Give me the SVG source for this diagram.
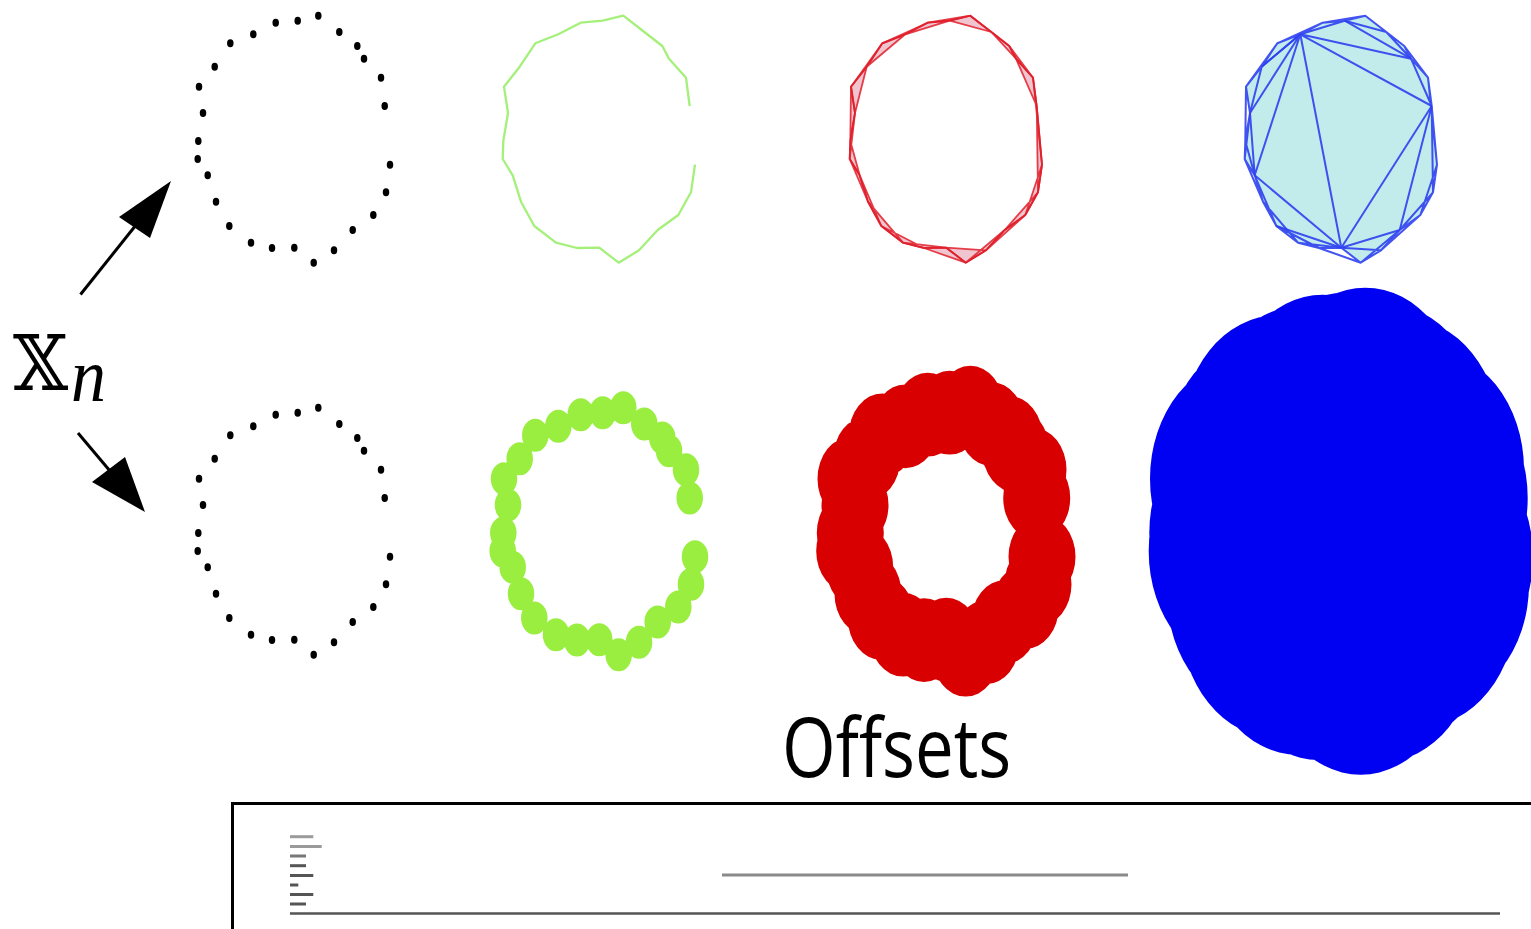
<svg xmlns="http://www.w3.org/2000/svg" xmlns:xlink="http://www.w3.org/1999/xlink" width="1531" height="929" viewBox="0 0 1531 929">
<style>
.dots{fill:none;stroke:#000;stroke-width:6.5;stroke-linecap:round}
.gdisc{fill:none;stroke:#99ee40;stroke-width:26.5;stroke-linecap:round}
.rdisc{fill:none;stroke:#d80000;stroke-width:67;stroke-linecap:round}
.bdisc{fill:none;stroke:#0000f2;stroke-width:192;stroke-linecap:round}
.gline{fill:none;stroke:#a4f07a;stroke-width:2.3;stroke-linejoin:round}
.rtri{fill:#d04a6a;fill-opacity:0.32;stroke:#e0202c;stroke-width:1.8;stroke-opacity:0.85;stroke-linejoin:round}
.bfill{fill:#c2ecec;stroke:none}
.btri{fill:none;stroke:#2f40f0;stroke-width:2;stroke-opacity:0.9;stroke-linejoin:round}
.arrow{stroke:#000;stroke-width:3;fill:none}
.head{fill:#000}
.lbl{font-family:"Open Sans","DejaVu Sans",sans-serif;fill:#000}
.leg{stroke-width:3;fill:none}
</style>
<defs>
<path id="pts" d="M384.7 84.8h.01M381 62.16h.01M364 46.96h.01M357.3 36.8h.01M339.3 25.6h.01M318.3 12.56h.01M297.7 16.56h.01M275.7 18.16h.01M253.3 27.44h.01M230.3 34.64h.01M214.7 53.36h.01M199 69.36h.01M203 90.4h.01M198.3 112.8h.01M197.7 127.2h.01M207.7 140.24h.01M216 161.36h.01M229.3 180.8h.01M251 194.16h.01M272 198.4h.01M294.3 198.16h.01M313.7 210.16h.01M334 200.24h.01M352.7 184h.01M373.3 172h.01M386 153.84h.01M390 131.76h.01"/>
<polygon id="ringc" points="384.7,106 381,77.7 364,58.7 357.3,46 339.3,32 318.3,15.7 297.7,20.7 275.7,22.7 253.3,34.3 230.3,43.3 214.7,66.7 199,86.7 203,113 198.3,141 197.7,159 207.7,175.3 216,201.7 229.3,226 251,242.7 272,248 294.3,247.7 313.7,262.7 334,250.3 352.7,230 373.3,215 386,192.3 390,164.7"/>
<path id="tris" d="M384.7 106L381 77.7L364 58.7ZM381 77.7L364 58.7L357.3 46ZM364 58.7L357.3 46L339.3 32ZM357.3 46L339.3 32L318.3 15.7ZM339.3 32L318.3 15.7L297.7 20.7ZM318.3 15.7L297.7 20.7L275.7 22.7ZM297.7 20.7L275.7 22.7L253.3 34.3ZM275.7 22.7L253.3 34.3L230.3 43.3ZM253.3 34.3L230.3 43.3L214.7 66.7ZM230.3 43.3L214.7 66.7L199 86.7ZM214.7 66.7L199 86.7L203 113ZM199 86.7L203 113L198.3 141ZM203 113L198.3 141L197.7 159ZM198.3 141L197.7 159L207.7 175.3ZM197.7 159L207.7 175.3L216 201.7ZM207.7 175.3L216 201.7L229.3 226ZM216 201.7L229.3 226L251 242.7ZM229.3 226L251 242.7L272 248ZM251 242.7L272 248L294.3 247.7ZM272 248L294.3 247.7L313.7 262.7ZM294.3 247.7L313.7 262.7L334 250.3ZM313.7 262.7L334 250.3L352.7 230ZM334 250.3L352.7 230L373.3 215ZM352.7 230L373.3 215L386 192.3ZM373.3 215L386 192.3L390 164.7ZM386 192.3L390 164.7L384.7 106ZM390 164.7L384.7 106L381 77.7Z"/>
</defs>

<g id="points-top">
<use xlink:href="#pts" href="#pts" class="dots" transform="translate(0,0) scale(1,1.25)"/>
</g>
<g id="points-bottom">
<use xlink:href="#pts" href="#pts" class="dots" transform="translate(0,392) scale(1,1.25)"/>
</g>

<g id="green-path" transform="translate(305,0)">
<polyline class="gline" points="384.7,106 381,77.7 364,58.7 357.3,46 339.3,32 318.3,15.7 297.7,20.7 275.7,22.7 253.3,34.3 230.3,43.3 214.7,66.7 199,86.7 203,113 198.3,141 197.7,159 207.7,175.3 216,201.7 229.3,226 251,242.7 272,248 294.3,247.7 313.7,262.7 334,250.3 352.7,230 373.3,215 386,192.3 390,164.7"/>
</g>
<g id="green-offset">
<use xlink:href="#pts" href="#pts" class="gdisc" transform="translate(305,392) scale(1,1.25)"/>
</g>

<g id="red-complex" transform="translate(652,0)">
<use xlink:href="#tris" href="#tris" class="rtri"/>
<use xlink:href="#ringc" href="#ringc" style="fill:none;stroke:#e0202c;stroke-width:1.8"/>
</g>
<g id="red-offset">
<use xlink:href="#pts" href="#pts" class="rdisc" transform="translate(652,392) scale(1,1.25)"/>
</g>

<g id="blue-complex" transform="translate(1047,0)">
<use xlink:href="#ringc" href="#ringc" class="bfill"/>
<use xlink:href="#tris" href="#tris" class="btri"/>
<path class="btri" d="M253.3 34.3L384.7 106M253.3 34.3L294.3 247.7M253.3 34.3L207.7 175.3M384.7 106L294.3 247.7M207.7 175.3L294.3 247.7M253.3 34.3L364 58.7M297.7 20.7L364 58.7M253.3 34.3L203 113M203 113L207.7 175.3M229.3 226L294.3 247.7M294.3 247.7L352.7 230M352.7 230L384.7 106M253.3 34.3L214.7 66.7"/>
</g>
<g id="blue-offset">
<polygon points="384.7,106 381,77.7 364,58.7 357.3,46 339.3,32 318.3,15.7 297.7,20.7 275.7,22.7 253.3,34.3 230.3,43.3 214.7,66.7 199,86.7 203,113 198.3,141 197.7,159 207.7,175.3 216,201.7 229.3,226 251,242.7 272,248 294.3,247.7 313.7,262.7 334,250.3 352.7,230 373.3,215 386,192.3 390,164.7" fill="#0000f2" transform="translate(1047,392)"/>
<use xlink:href="#pts" href="#pts" class="bdisc" transform="translate(1047,392) scale(1,1.25)"/>
</g>

<g id="label-xn">
<text transform="translate(13,390) scale(1,1.08)" style="font-family:'DejaVu Serif','DejaVu Sans',serif;font-size:71px;fill:#000">𝕏</text>
<text transform="translate(71,401) scale(1,1.1)" style="font-family:'Liberation Serif',serif;font-style:italic;font-size:70px;fill:#000">n</text>
</g>

<g id="connectors">
<line class="arrow" x1="80.5" y1="294.5" x2="136" y2="225"/>
<polygon class="head" points="171,181 119,217 150,238"/>
<line class="arrow" x1="78" y1="433" x2="110" y2="471"/>
<polygon class="head" points="145,512 92,482 125,457"/>
</g>

<g id="label-offsets">
<text class="lbl" transform="translate(782,777) scale(1,1.2)" style="font-size:69px">Offsets</text>
</g>

<g id="panel">
<path d="M1533 803.5H232.5V931" fill="none" stroke="#000" stroke-width="3"/>
<line class="leg" x1="290" y1="836.7" x2="313.3" y2="836.7" stroke="#9a9a9a"/>
<line class="leg" x1="290" y1="846.5" x2="321.7" y2="846.5" stroke="#9a9a9a"/>
<line class="leg" x1="290" y1="856" x2="306" y2="856" stroke="#777"/>
<line class="leg" x1="290" y1="865.7" x2="306" y2="865.7" stroke="#555"/>
<line class="leg" x1="290" y1="875.5" x2="313.3" y2="875.5" stroke="#555"/>
<line class="leg" x1="290" y1="885" x2="298.3" y2="885" stroke="#555"/>
<line class="leg" x1="290" y1="894.5" x2="313.3" y2="894.5" stroke="#555"/>
<line class="leg" x1="290" y1="904" x2="306" y2="904" stroke="#555"/>
<line class="leg" x1="722" y1="875" x2="1128" y2="875" stroke="#8a8a8a"/>
<line x1="290" y1="913.5" x2="1500" y2="913.5" stroke="#555" stroke-width="2.5"/>
</g>
</svg>
